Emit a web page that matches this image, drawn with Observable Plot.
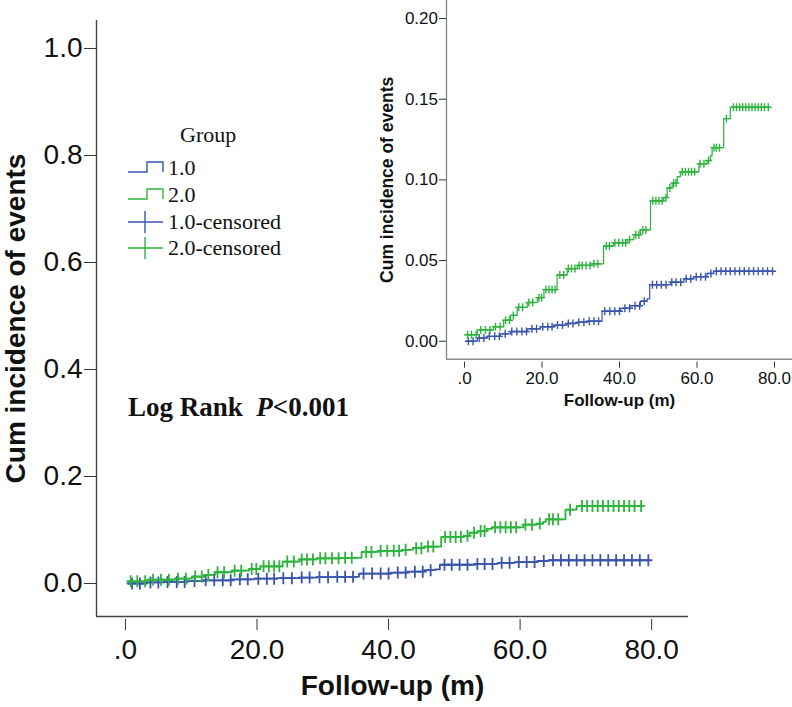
<!DOCTYPE html>
<html><head><meta charset="utf-8">
<script src="https://cdn.jsdelivr.net/npm/d3@7"></script>
<script src="https://cdn.jsdelivr.net/npm/@observablehq/plot@0.6"></script>
<style>
html,body{margin:0;padding:0;background:#fff;}
#chart{position:relative;width:792px;height:707px;overflow:hidden;background:#fff;}
#chart > svg{position:absolute;left:0;top:0;}
.lg{position:absolute;font-family:"Liberation Serif","Times New Roman",serif;font-size:22px;line-height:22px;color:#111;white-space:pre;}
.logrank{position:absolute;left:128px;top:394px;font-family:"Liberation Serif","Times New Roman",serif;font-weight:bold;font-size:27px;line-height:27px;color:#111;white-space:pre;}
</style></head><body><div id="chart"></div>
<script>
// ---- data ----
const groups = ["1.0", "2.0"];
const legendLabels = ["1.0", "2.0", "1.0-censored", "2.0-censored"];
// Group 1.0 step curve (time in months, cumulative incidence)
const blueTime = [0.3, 3.3, 5.9, 9.3, 11.9, 16.2, 19.6, 23.0, 26.5, 29.1, 31.7, 35.5, 40.3, 42.8, 45.4, 47.1, 47.8, 53.2, 56.6, 59.2, 62.6, 64.3, 79.5];
const blueCum  = [0.000, 0.002, 0.003, 0.0046, 0.006, 0.0077, 0.009, 0.010, 0.011, 0.0118, 0.0124, 0.0186, 0.0204, 0.022, 0.0248, 0.0263, 0.035, 0.0366, 0.0387, 0.040, 0.042, 0.0434, 0.0434];
// Group 2.0 step curve
const greenTime = [0.3, 3.3, 7.5, 10.1, 11.9, 13.6, 16.2, 18.8, 20.5, 23.9, 26.5, 29.1, 32.5, 35.9, 38.5, 42.0, 43.7, 45.4, 48.0, 51.4, 52.3, 53.6, 54.9, 55.7, 60.5, 62.6, 63.5, 63.9, 66.9, 68.6, 78.5];
const greenCum  = [0.004, 0.007, 0.009, 0.013, 0.016, 0.021, 0.024, 0.027, 0.032, 0.041, 0.045, 0.047, 0.048, 0.059, 0.061, 0.063, 0.066, 0.069, 0.087, 0.089, 0.095, 0.098, 0.102, 0.105, 0.110, 0.112, 0.115, 0.120, 0.138, 0.145, 0.145];
// Censoring times
const blueCensor = [1.0, 2.2, 3.8, 5.0, 6.4, 7.8, 9.0, 10.5, 12.2, 13.5, 14.8, 16.0, 17.4, 18.6, 20.2, 21.5, 22.6, 24.0, 25.3, 26.8, 28.0, 29.5, 30.8, 32.2, 33.4, 34.6, 36.2, 37.5, 38.8, 40.0, 41.4, 42.6, 44.0, 45.2, 46.4, 48.5, 49.6, 50.8, 52.0, 53.5, 54.6, 55.8, 57.2, 58.4, 59.8, 61.0, 62.2, 63.6, 65.0, 66.2, 67.4, 68.6, 69.8, 71.0, 72.2, 73.4, 74.6, 75.8, 77.0, 78.2, 79.5];
const greenCensor = [0.8, 1.8, 3.0, 4.2, 5.4, 6.6, 8.0, 9.2, 10.6, 11.6, 12.6, 14.0, 15.0, 16.6, 17.6, 19.2, 19.9, 21.0, 21.8, 22.6, 23.4, 24.6, 25.6, 26.8, 27.6, 28.5, 29.6, 30.4, 31.4, 32.4, 33.4, 34.4, 36.6, 37.4, 38.8, 39.8, 40.8, 41.6, 42.6, 44.2, 45.0, 46.0, 46.8, 48.6, 49.4, 50.2, 51.0, 52.0, 53.0, 54.0, 54.6, 56.2, 57.0, 57.8, 58.6, 59.4, 60.8, 61.8, 63.0, 64.4, 65.0, 65.8, 67.6, 69.4, 70.2, 71.0, 71.8, 72.6, 73.4, 74.2, 75.0, 75.8, 76.6, 77.4, 78.4];
// Axes
const mainYTicks = [0, 0.2, 0.4, 0.6, 0.8, 1.0];
const mainYTickLabels = ["0.0", "0.2", "0.4", "0.6", "0.8", "1.0"];
const xTicks = [0, 20, 40, 60, 80];
const xTickLabels = [".0", "20.0", "40.0", "60.0", "80.0"];
const insetYTicks = [0, 0.05, 0.10, 0.15, 0.20];
const insetYTickLabels = ["0.00", "0.05", "0.10", "0.15", "0.20"];
const xTitle = "Follow-up (m)";
const yTitle = "Cum incidence of events";
const legendTitle = "Group";

// ---- helpers ----
const BLUE = "#3A55AD", GREEN = "#2DB43D";
const SANS = "'Liberation Sans', Arial, Helvetica, sans-serif";
function stepAt(times, vals, t) { let v = vals[0]; for (let i = 0; i < times.length; i++) if (times[i] <= t) v = vals[i]; return v; }
function plusSymbol(h, w) {
  return { draw(ctx) { ctx.moveTo(0, -h / 2); ctx.lineTo(0, h / 2); ctx.moveTo(-w / 2, 0); ctx.lineTo(w / 2, 0); } };
}
const blueCensorY = blueCensor.map(t => stepAt(blueTime, blueCum, t));
const greenCensorY = greenCensor.map(t => stepAt(greenTime, greenCum, t));

function curveMarks(sw, plusH, plusW, psw) {
  return [
    Plot.line(blueTime, {x: d => d, y: (d, i) => blueCum[i], curve: "step-after", stroke: BLUE, strokeWidth: sw}),
    Plot.line(greenTime, {x: d => d, y: (d, i) => greenCum[i], curve: "step-after", stroke: GREEN, strokeWidth: sw}),
    Plot.dot(blueCensor, {x: d => d, y: (d, i) => blueCensorY[i], symbol: plusSymbol(plusH, plusW), r: 4, fill: "none", stroke: BLUE, strokeWidth: psw}),
    Plot.dot(greenCensor, {x: d => d, y: (d, i) => greenCensorY[i], symbol: plusSymbol(plusH, plusW), r: 4, fill: "none", stroke: GREEN, strokeWidth: psw})
  ];
}

// ---- main chart ----
const mainXDomain = [-4.4, 85.6];
const mainYDomain = [-0.0617, 1.0523];
const main = Plot.plot({
  width: 792, height: 707,
  marginLeft: 96, marginRight: 104, marginTop: 20, marginBottom: 91,
  style: {background: "white", fontFamily: SANS, color: "#111"},
  x: {domain: mainXDomain},
  y: {domain: mainYDomain},
  marks: [
    Plot.ruleX([mainXDomain[0]], {stroke: "#444", strokeWidth: 1.4}),
    Plot.ruleY([mainYDomain[0]], {stroke: "#444", strokeWidth: 1.4}),
    Plot.axisY({ticks: mainYTicks, tickFormat: (d, i) => mainYTickLabels[i], tickSize: 12, tickPadding: 2, fontSize: 28, label: null, stroke: "#333"}),
    Plot.axisX({ticks: xTicks, tickFormat: (d, i) => xTickLabels[i], tickSize: 11, tickPadding: 9, dy: 3, fontSize: 28, label: null, stroke: "#333"}),
    ...curveMarks(1.8, 12, 8, 1.8),
    Plot.text([xTitle], {text: d => d, frameAnchor: "bottom", dy: 78, fontSize: 28, fontWeight: "bold"}),
    Plot.text([yTitle], {text: d => d, frameAnchor: "left", textAnchor: "middle", rotate: -90, dx: -80, fontSize: 28, fontWeight: "bold"})
  ]
});

// ---- inset chart ----
const insetXDomain = [-4.645, 84.65];
const insetYDomain = [-0.01115, 0.2112];
const inset = Plot.plot({
  width: 792, height: 420,
  marginLeft: 446, marginRight: 0, marginTop: 0, marginBottom: 61.3,
  style: {background: "transparent", fontFamily: SANS, color: "#111"},
  x: {domain: insetXDomain},
  y: {domain: insetYDomain},
  marks: [
    Plot.ruleX([insetXDomain[0]], {stroke: "#8a8a8a", strokeWidth: 1.4}),
    Plot.ruleY([insetYDomain[0]], {stroke: "#8a8a8a", strokeWidth: 1.4}),
    Plot.axisY({ticks: insetYTicks, tickFormat: (d, i) => insetYTickLabels[i], tickSize: 7, tickPadding: 1.5, fontSize: 17, label: null, stroke: "#333"}),
    Plot.axisX({ticks: xTicks, tickFormat: (d, i) => xTickLabels[i], tickSize: 6, tickPadding: 4, dy: 3, fontSize: 17, label: null, stroke: "#333"}),
    ...curveMarks(1.2, 8, 7, 1.4),
    Plot.text([xTitle], {text: d => d, frameAnchor: "bottom", dy: 47, fontSize: 17, fontWeight: "bold"}),
    Plot.text([yTitle], {text: d => d, frameAnchor: "left", textAnchor: "middle", rotate: -90, dx: -59, fontSize: 17.5, fontWeight: "bold"})
  ]
});

const chart = document.getElementById("chart");
chart.appendChild(main);
chart.appendChild(inset);

// ---- legend (inside plot area) ----
const lgTops = [157, 184, 211, 237];
const t = document.createElement("div");
t.className = "lg"; t.style.left = "180px"; t.style.top = "124px"; t.textContent = legendTitle;
chart.appendChild(t);
legendLabels.forEach((lab, i) => {
  const d = document.createElement("div");
  d.className = "lg"; d.style.left = "168px"; d.style.top = lgTops[i] + "px"; d.textContent = lab;
  chart.appendChild(d);
});
const ns = "http://www.w3.org/2000/svg";
const lsvg = document.createElementNS(ns, "svg");
lsvg.setAttribute("width", 792); lsvg.setAttribute("height", 707);
lsvg.style.pointerEvents = "none";
const colors = [BLUE, GREEN, BLUE, GREEN];
const centers = [168, 195, 222, 248];
colors.forEach((c, i) => {
  const p = document.createElementNS(ns, "path");
  const cy = centers[i];
  const dpath = i < 2
    ? `M128,${cy + 4}H147V${cy - 6}H163V${cy + 4}`
    : `M128,${cy}H163M145,${cy - 11}V${cy + 11}`;
  p.setAttribute("d", dpath);
  p.setAttribute("fill", "none"); p.setAttribute("stroke", c); p.setAttribute("stroke-width", 1.4);
  lsvg.appendChild(p);
});
chart.appendChild(lsvg);

const lr = document.createElement("div");
lr.className = "logrank";
lr.innerHTML = "Log Rank  <i>P</i>&lt;0.001";
chart.appendChild(lr);
</script>
</body></html>
